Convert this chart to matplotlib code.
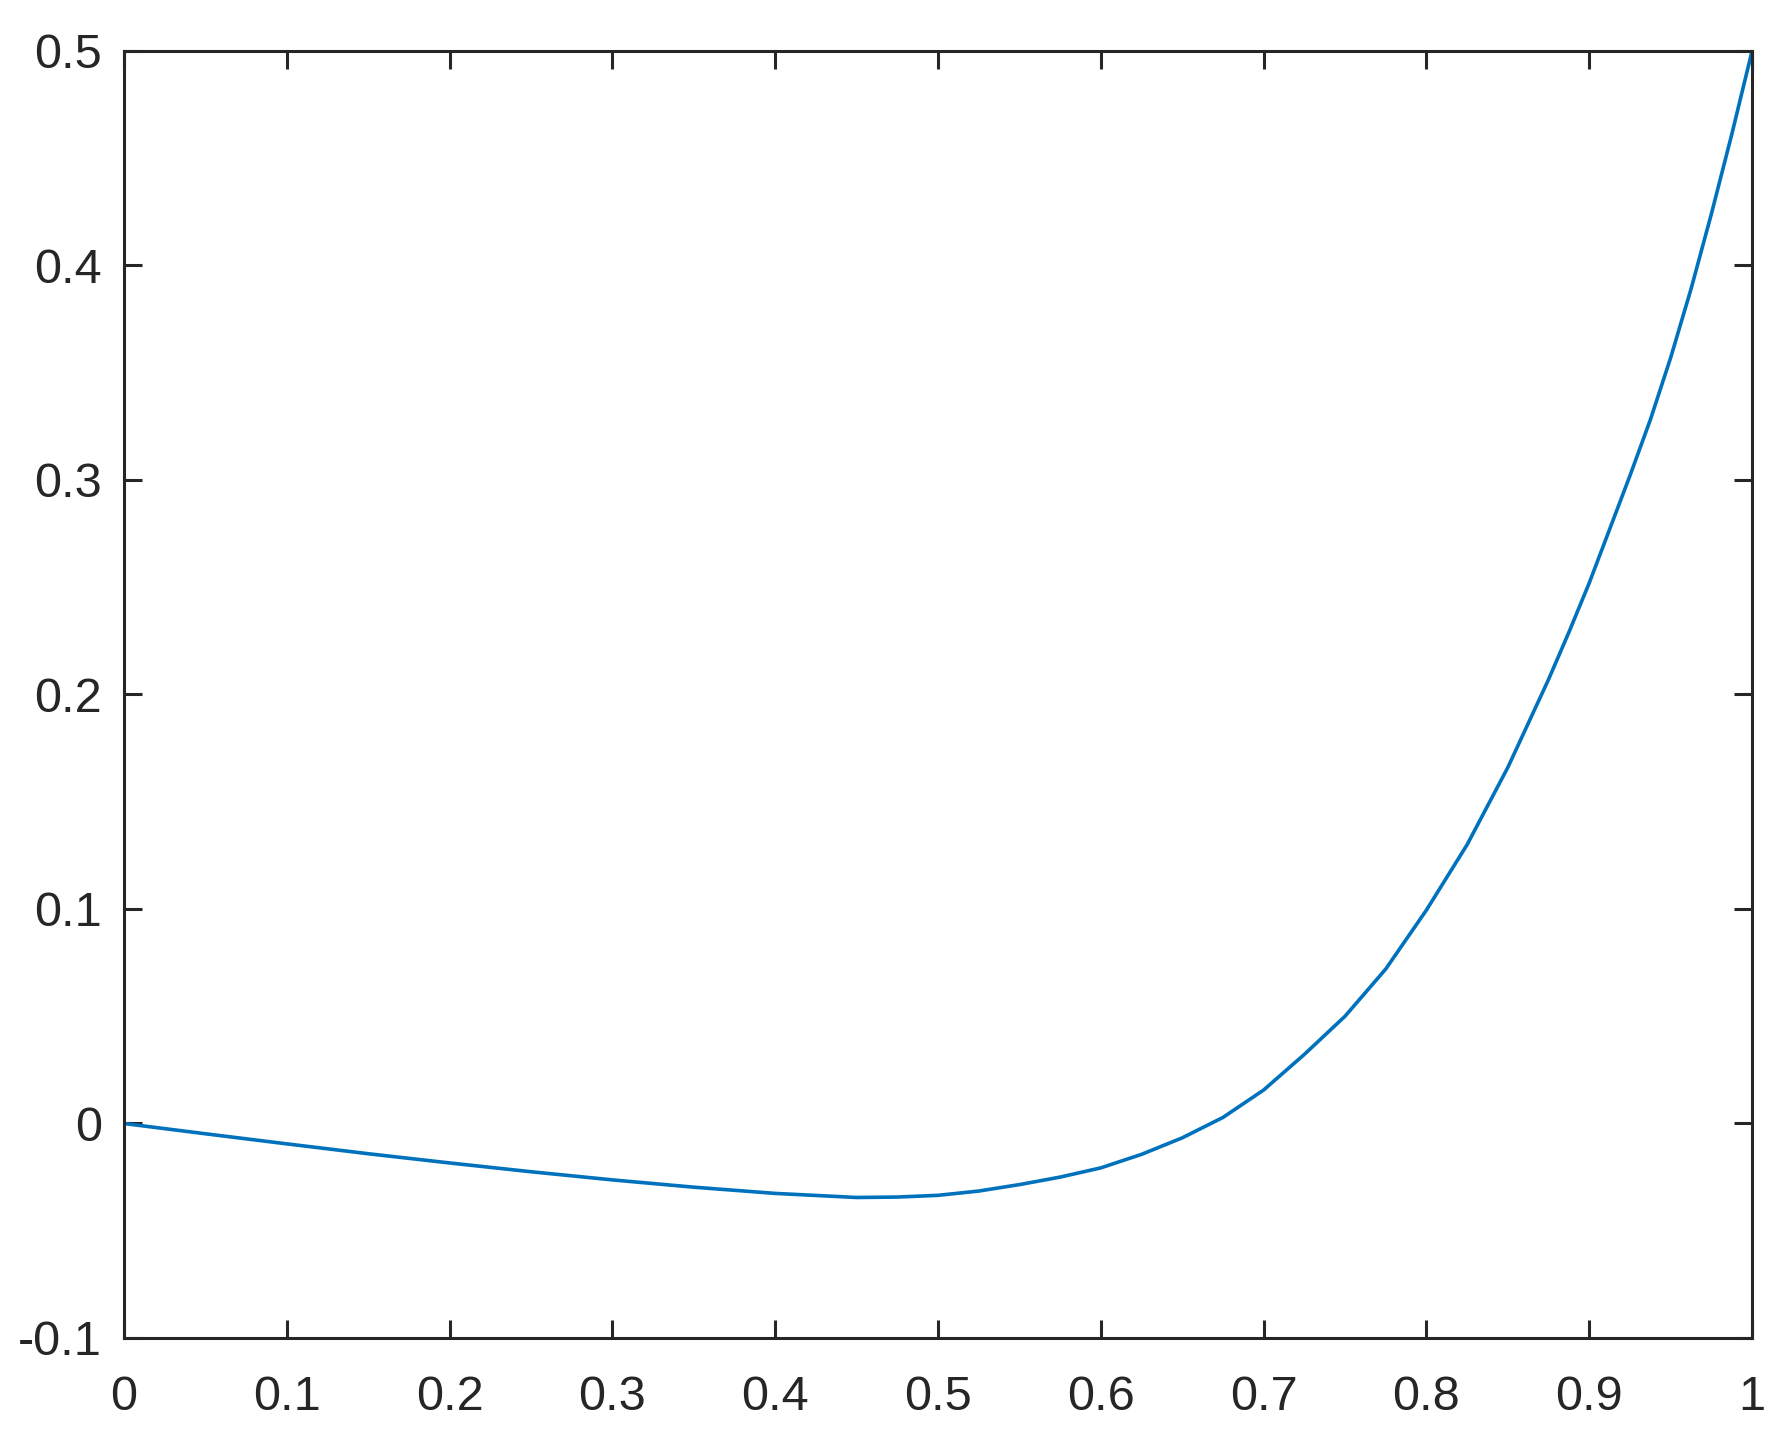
import matplotlib
matplotlib.use("Agg")
import matplotlib.pyplot as plt

# curve values
x = [0.0, 0.05, 0.1, 0.15, 0.2, 0.25, 0.3, 0.35, 0.4, 0.45, 0.475, 0.5, 0.525, 0.55,
     0.575, 0.6, 0.625, 0.65, 0.675, 0.7, 0.725, 0.75, 0.775, 0.8, 0.825, 0.85,
     0.875, 0.8875, 0.9, 0.9125, 0.925, 0.9375, 0.95, 0.9625, 0.975, 0.9875, 1.0]
y = [0.0, -0.0048, -0.0095, -0.0141, -0.0184, -0.0225, -0.0263, -0.0297, -0.0326,
     -0.0345, -0.0343, -0.0335, -0.0315, -0.0285, -0.0250, -0.0207, -0.0144, -0.0067,
     0.0028, 0.0156, 0.0322, 0.0500, 0.0720, 0.0995, 0.130, 0.166, 0.207, 0.229,
     0.252, 0.277, 0.302, 0.328, 0.357, 0.389, 0.424, 0.461, 0.5]

xticks = [0, 0.1, 0.2, 0.3, 0.4, 0.5, 0.6, 0.7, 0.8, 0.9, 1]
xlabels = ["0", "0.1", "0.2", "0.3", "0.4", "0.5", "0.6", "0.7", "0.8", "0.9", "1"]
yticks = [-0.1, 0, 0.1, 0.2, 0.3, 0.4, 0.5]
ylabels = ["-0.1", "0", "0.1", "0.2", "0.3", "0.4", "0.5"]

plt.rcParams["font.family"] = ["Liberation Sans", "DejaVu Sans"]
plt.rcParams["axes.unicode_minus"] = False

dark = "#262626"
fig = plt.figure(figsize=(8.93, 7.155), dpi=200)
ax = fig.add_axes([0.0694, 0.065, 0.9116, 0.8994])

ax.plot(x, y, color="#0072BD", lw=1.3)

ax.set_xlim(0, 1)
ax.set_ylim(-0.1, 0.5)
ax.set_xticks(xticks)
ax.set_xticklabels(xlabels)
ax.set_yticks(yticks)
ax.set_yticklabels(ylabels)
ax.tick_params(direction="in", length=6.4, width=1.1, color=dark, labelcolor=dark,
               labelsize=17.5, top=True, right=True)
ax.tick_params(axis="x", pad=13.5)
ax.tick_params(axis="y", pad=8)
for s in ax.spines.values():
    s.set_linewidth(1.1)
    s.set_color(dark)

fig.savefig("out.png", dpi=200)
